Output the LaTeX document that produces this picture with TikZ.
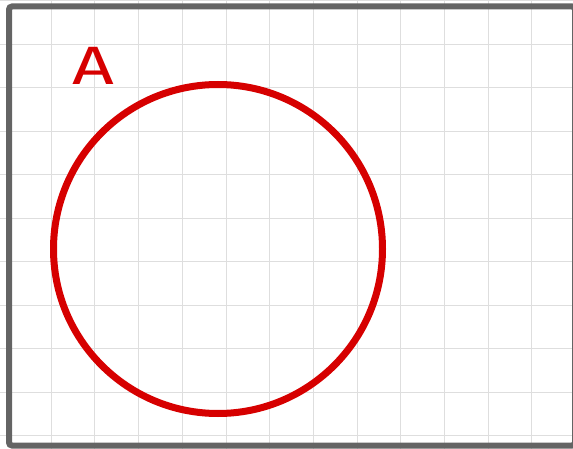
\documentclass[tikz,border=0pt]{standalone}
\usepackage{fontspec}
\newfontfamily\handfont{Fira Sans}
\definecolor{frame}{RGB}{100,100,100}
\definecolor{gridc}{RGB}{222,222,222}
\definecolor{redc}{RGB}{214,0,0}
\begin{document}
\begin{tikzpicture}[x=1pt,y=-1pt,
  gridline/.style={draw=gridc,line width=1pt},
  framebox/.style={draw=frame,line width=6pt,rounded corners=3pt},
  ringstyle/.style={draw=redc,line width=7pt},
  label/.style={text=redc,font=\handfont\fontsize{54}{54}\selectfont,inner sep=0pt}]
\useasboundingbox (0,0) rectangle (573,449);
\foreach \k in {1,...,13} {\draw[gridline] ({7.5+43.7*\k},0) -- ({7.5+43.7*\k},449);}
\foreach \k in {0,...,10} {\draw[gridline] (0,{0.8+43.5*\k}) -- (573,{0.8+43.5*\k});}
\draw[framebox] (9,6.5) rectangle (575,445.5);
\draw[ringstyle] (218,249) circle (164.5);
\node[label,xscale=1.35] (A) at (93,66) {A};
\end{tikzpicture}
\end{document}
